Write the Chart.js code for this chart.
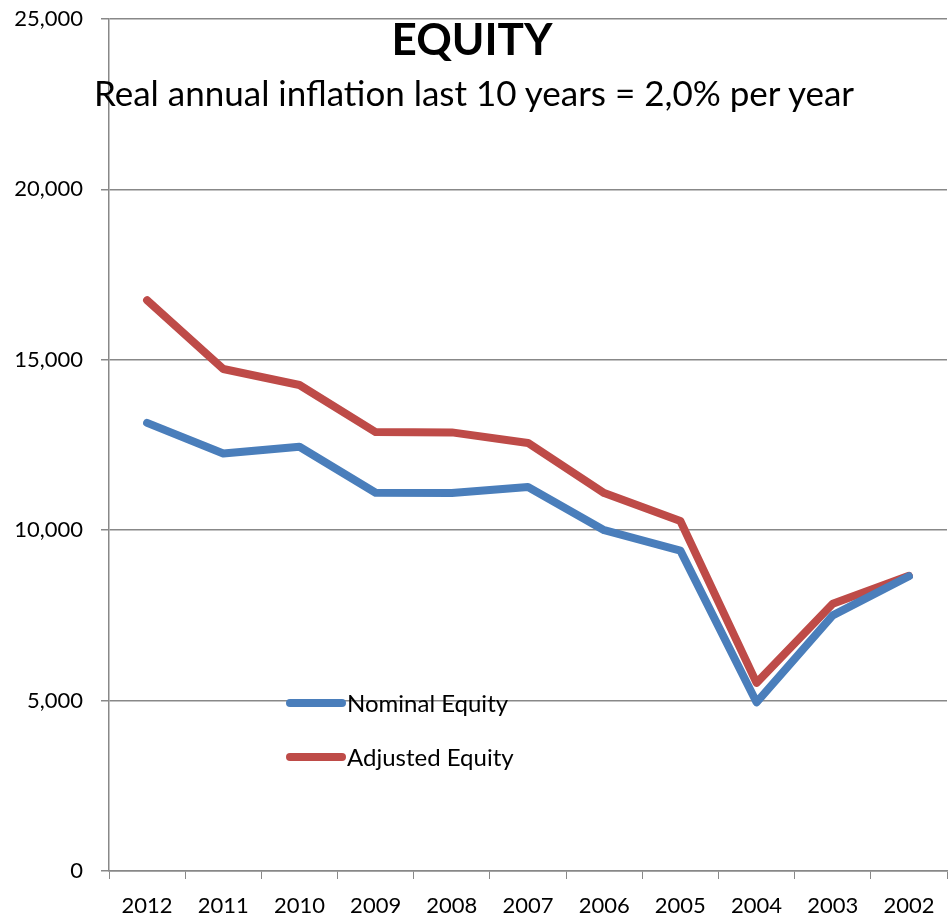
<!DOCTYPE html>
<html>
<head>
<meta charset="utf-8">
<script src="https://cdn.jsdelivr.net/npm/chart.js@4/dist/chart.umd.min.js"></script>
<style>
  html, body { margin: 0; padding: 0; background: #fff; }
  #wrap { position: relative; width: 951px; height: 923px; }
  #title { position: absolute; left: 0; width: 944px; top: 12px; text-align: center;
           font-family: Lato, sans-serif; font-weight: bold; font-size: 44px; color: #000; }
  #subtitle { position: absolute; left: 0; width: 948px; top: 71px; text-align: center;
           font-family: Lato, sans-serif; font-size: 35px; color: #000; }
</style>
</head>
<body>
<div id="wrap">
  <canvas id="c" width="951" height="923"></canvas>
  <div id="title">EQUITY</div>
  <div id="subtitle">Real annual inflation last 10 years = 2,0% per year</div>
</div>
<script>
const categories = ["2012","2011","2010","2009","2008","2007","2006","2005","2004","2003","2002"];
const nominalEquity = [13150, 12250, 12450, 11100, 11090, 11270, 10000, 9400, 4950, 7500, 8650];
const adjustedEquity = [16750, 14730, 14260, 12880, 12870, 12560, 11090, 10270, 5520, 7840, 8660];
const yTicks = [0, 5000, 10000, 15000, 20000, 25000];
const seriesNames = ["Nominal Equity", "Adjusted Equity"];

const FONT = "Lato, sans-serif";

const legendPlugin = {
  id: 'insideLegend',
  afterDatasetsDraw(chart) {
    const ctx = chart.ctx;
    const items = [
      { y: 703, ds: chart.data.datasets[0] },
      { y: 757, ds: chart.data.datasets[1] }
    ];
    ctx.save();
    items.forEach(it => {
      ctx.strokeStyle = it.ds.borderColor;
      ctx.lineWidth = 8;
      ctx.lineCap = 'round';
      ctx.beginPath();
      ctx.moveTo(290, it.y);
      ctx.lineTo(342, it.y);
      ctx.stroke();
      ctx.fillStyle = '#000';
      ctx.font = '24px ' + FONT;
      ctx.textBaseline = 'middle';
      ctx.textAlign = 'left';
      ctx.fillText(it.ds.label, 347, it.y + 1);
    });
    ctx.restore();
  }
};

new Chart(document.getElementById('c'), {
  type: 'line',
  data: {
    labels: categories,
    datasets: [
      { label: seriesNames[0], data: nominalEquity, borderColor: '#4a7ebb', borderWidth: 8,
        pointRadius: 0, tension: 0, borderCapStyle: 'round', borderJoinStyle: 'round', fill: false },
      { label: seriesNames[1], data: adjustedEquity, borderColor: '#be4b48', borderWidth: 8,
        pointRadius: 0, tension: 0, borderCapStyle: 'round', borderJoinStyle: 'round', fill: false }
    ]
  },
  options: {
    responsive: false,
    animation: false,
    devicePixelRatio: 1,
    layout: { padding: { top: 19, right: 4, left: 0, bottom: 0 } },
    plugins: { legend: { display: false }, title: { display: false }, tooltip: { enabled: false } },
    scales: {
      x: {
        type: 'category',
        offset: true,
        grid: { display: true, drawOnChartArea: false, drawTicks: true, tickLength: 8, color: '#888', offset: true },
        border: { display: true, color: '#888', width: 1.5 },
        ticks: { color: '#000', font: { family: FONT, size: 22 }, padding: 14, maxRotation: 0, autoSkip: false },
        afterFit(s) { s.height = 52; s.paddingLeft = 0; s.paddingRight = 0; }
      },
      y: {
        min: 0, max: 25000,
        afterBuildTicks(s) { s.ticks = yTicks.map(v => ({ value: v })); },
        grid: { color: '#888', lineWidth: 1.5, tickLength: 8, drawTicks: true },
        border: { display: true, color: '#888', width: 1.5 },
        ticks: { color: '#000', font: { family: FONT, size: 22 }, padding: 18,
                 callback: v => v.toLocaleString('en-US') },
        afterFit(s) { s.width = 109; s.paddingTop = 0; s.paddingBottom = 0; }
      }
    }
  },
  plugins: [legendPlugin]
});
</script>
</body>
</html>
